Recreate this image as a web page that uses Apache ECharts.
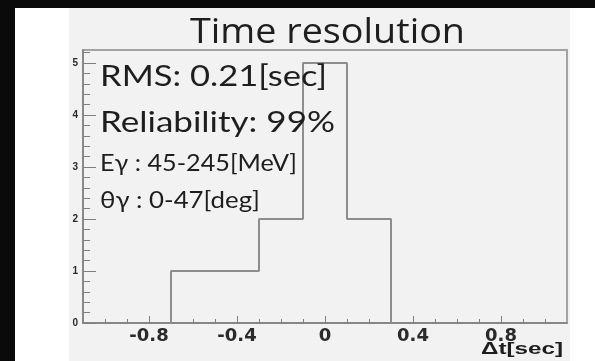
<!DOCTYPE html>
<html>
<head>
<meta charset="utf-8">
<script src="https://cdn.jsdelivr.net/npm/echarts@6/dist/echarts.min.js"></script>
<style>
  html, body { margin: 0; padding: 0; background: #fff; }
  #chart { width: 595px; height: 361px; }
</style>
</head>
<body>
<div id="chart"></div>
<script>
// Histogram of dt (sec): bin edges and entries
const binEdges = [-0.7, -0.5, -0.3, -0.1, 0.1, 0.3];
const binCounts = [1, 1, 2, 5, 2];

// Axis ticks / labels
const xMajorValues = [-0.8, -0.4, 0, 0.4, 0.8];
const xMinorValues = [-1.0, -0.9, -0.7, -0.6, -0.5, -0.3, -0.2, -0.1, 0.1, 0.2, 0.3, 0.5, 0.6, 0.7, 0.9, 1.0];
const yMajorValues = [0, 1, 2, 3, 4, 5];
const yMinorValues = [0.2, 0.4, 0.6, 0.8, 1.2, 1.4, 1.6, 1.8, 2.2, 2.4, 2.6, 2.8, 3.2, 3.4, 3.6, 3.8, 4.2, 4.4, 4.6, 4.8, 5.2];

// Texts
const titleText = 'Time resolution';
const statLines = ['RMS: 0.21[sec]', 'Reliability: 99%', 'Eγ : 45-245[MeV]', 'θγ : 0-47[deg]'];
const xAxisTitle = 'Δt[sec]';

const AXIS_COLOR = '#7f7f7f';

// outline of the histogram, drawn as a stepped line
const outline = [[binEdges[0], 0]];
binCounts.forEach((c, i) => outline.push([binEdges[i], c]));
outline.push([binEdges[binEdges.length - 1], binCounts[binCounts.length - 1]]);
outline.push([binEdges[binEdges.length - 1], 0]);

// stretch a text horizontally so it spans a given width
const measureCtx = document.createElement('canvas').getContext('2d');
function textEl(text, size, weight, family, left, right, baseline) {
  const font = `${weight} ${size}px ${family}`;
  measureCtx.font = font;
  const w = measureCtx.measureText(text).width;
  return {
    type: 'text',
    x: left,
    y: baseline - 0.32 * size,
    scaleX: (right - left) / w,
    z: 100,
    style: {
      text,
      font,
      fill: '#1e1e1e',
      align: 'left',
      verticalAlign: 'middle'
    }
  };
}

const statSpecs = [
  { size: 29, right: 327, baseline: 86 },
  { size: 28, right: 335, baseline: 132 },
  { size: 23, right: 297, baseline: 171 },
  { size: 23, right: 260, baseline: 208 }
];

const chart = echarts.init(document.getElementById('chart'), null, { renderer: 'canvas' });

chart.setOption({
  animation: false,
  backgroundColor: '#f2f2f2',
  grid: {
    left: 83, right: 28, top: 50, bottom: 38,
    show: true,
    borderColor: '#a3a3a3',
    borderWidth: 2,
    backgroundColor: 'transparent',
    outerBoundsMode: 'none'
  },
  xAxis: [
    {
      type: 'value', min: -1.1, max: 1.1, position: 'bottom',
      axisLine: { show: true, onZero: false, lineStyle: { color: AXIS_COLOR, width: 1.5 } },
      axisTick: { show: true, inside: true, length: 7, customValues: xMajorValues, lineStyle: { color: AXIS_COLOR } },
      axisLabel: {
        customValues: xMajorValues, margin: 4,
        fontFamily: 'DejaVu Sans', fontWeight: 'bold', fontSize: 18, color: '#2a2a2a'
      },
      splitLine: { show: false }
    },
    {
      type: 'value', min: -1.1, max: 1.1, position: 'bottom',
      axisLine: { show: false, onZero: false },
      axisTick: { show: true, inside: true, length: 4, customValues: xMinorValues, lineStyle: { color: AXIS_COLOR } },
      axisLabel: { show: false },
      splitLine: { show: false }
    }
  ],
  yAxis: [
    {
      type: 'value', min: 0, max: 5.25, position: 'left',
      axisLine: { show: true, onZero: false, lineStyle: { color: AXIS_COLOR, width: 1.5 } },
      axisTick: { show: true, inside: true, length: 13, customValues: yMajorValues, lineStyle: { color: AXIS_COLOR } },
      axisLabel: {
        customValues: yMajorValues, margin: 5,
        fontFamily: 'Liberation Sans', fontWeight: 'bold', fontSize: 10, color: '#2a2a2a'
      },
      splitLine: { show: false }
    },
    {
      type: 'value', min: 0, max: 5.25, position: 'left', offset: 0,
      axisLine: { show: false, onZero: false },
      axisTick: { show: true, inside: true, length: 7, customValues: yMinorValues, lineStyle: { color: AXIS_COLOR } },
      axisLabel: { show: false },
      splitLine: { show: false }
    }
  ],
  series: [
    {
      type: 'line',
      step: 'end',
      data: outline,
      symbol: 'none',
      lineStyle: { color: '#8e8e8e', width: 2 },
      z: 5
    }
  ],
  graphic: [
    { type: 'rect', z: 0, shape: { x: 0, y: 0, width: 69, height: 361 }, style: { fill: '#ffffff' } },
    { type: 'rect', z: 0, shape: { x: 570, y: 0, width: 25, height: 361 }, style: { fill: '#ffffff' } },
    { type: 'rect', z: 200, shape: { x: 0, y: 0, width: 15, height: 361 }, style: { fill: '#0a0a0a' } },
    { type: 'rect', z: 200, shape: { x: 0, y: 0, width: 595, height: 8 }, style: { fill: '#0a0a0a' } },
    textEl(titleText, 35, 'normal', 'Open Sans', 190, 465, 44),
    ...statLines.map((t, i) => textEl(t, statSpecs[i].size, 'normal', 'Lato', 100, statSpecs[i].right, statSpecs[i].baseline)),
    textEl(xAxisTitle, 16, 'bold', 'Liberation Sans', 481, 563, 355)
  ]
});
</script>
</body>
</html>
